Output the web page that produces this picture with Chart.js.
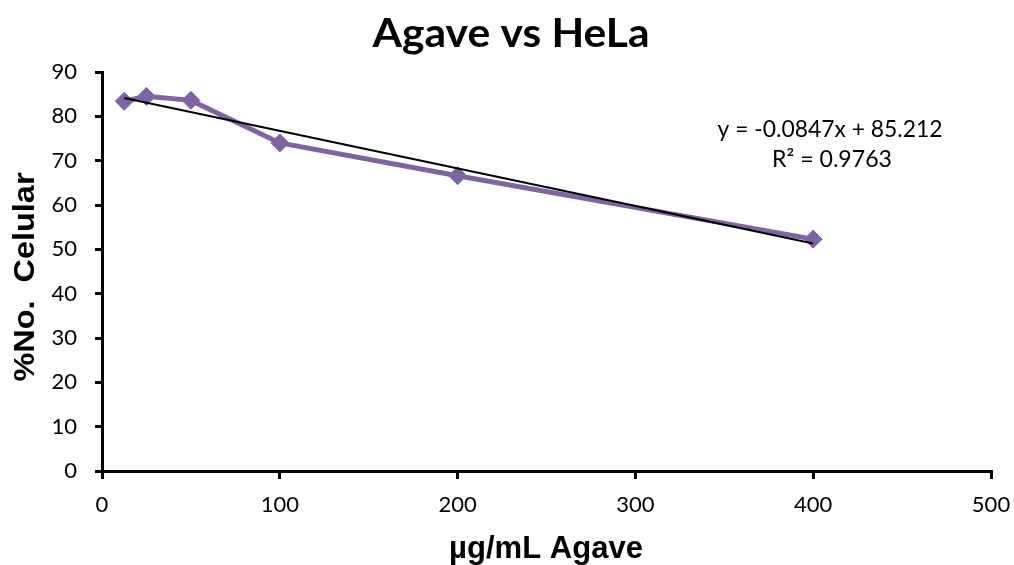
<!DOCTYPE html>
<html>
<head>
<meta charset="utf-8">
<title>Agave vs HeLa</title>
<script src="https://cdn.jsdelivr.net/npm/chart.js@4/dist/chart.umd.min.js"></script>
<style>
  html, body { margin: 0; padding: 0; background: #fff; }
  #wrap { width: 1014px; height: 565px; }
</style>
</head>
<body>
<div id="wrap"><canvas id="canvas" width="1014" height="565"></canvas></div>
<script>
// data
var concentrations = [12.5, 25, 50, 100, 200, 400];   // µg/mL
var viability = [83.4, 84.5, 83.6, 74.0, 66.6, 52.3];  // %No. Celular
var xTicks = [0, 100, 200, 300, 400, 500];
var yTicks = [0, 10, 20, 30, 40, 50, 60, 70, 80, 90];

// linear trendline as printed on the chart
var slope = -0.0847;
var intercept = 85.212;
var rSquared = 0.9763;

var titleText = 'Agave vs HeLa';
var xTitle = 'µg/mL Agave';
var yTitle = '%No.  Celular';
var eqLine1 = 'y = ' + slope + 'x + ' + intercept;
var eqLine2 = 'R² = ' + rSquared;

var purple = '#8064A2';

var seriesPoints = concentrations.map(function (c, i) { return { x: c, y: viability[i] }; });
var xFirst = concentrations[0], xLast = concentrations[concentrations.length - 1];
var trendPoints = [
  { x: xFirst, y: slope * xFirst + intercept },
  { x: xLast, y: slope * xLast + intercept }
];

// draw a text fitted to a given width
function fitText(ctx, text, cx, baseY, width, font, rotate) {
  ctx.save();
  ctx.font = font;
  var w = ctx.measureText(text).width;
  ctx.translate(cx, baseY);
  if (rotate) ctx.rotate(-Math.PI / 2);
  ctx.scale(width / w, 1);
  ctx.fillStyle = '#000';
  ctx.textAlign = 'center';
  ctx.textBaseline = 'alphabetic';
  ctx.fillText(text, 0, 0);
  ctx.restore();
}

var textPlugin = {
  id: 'texts',
  beforeDraw: function (chart) {
    var ctx = chart.ctx;
    ctx.save();
    ctx.fillStyle = '#fff';
    ctx.fillRect(0, 0, chart.width, chart.height);
    ctx.restore();
  },
  afterDraw: function (chart) {
    var ctx = chart.ctx;
    fitText(ctx, titleText, 511, 47, 277, 'bold 41px Lato', false);
    fitText(ctx, xTitle, 546, 558, 194, 'bold 31px "Liberation Sans"', false);
    fitText(ctx, yTitle, 34, 277, 209, 'bold 30px "Liberation Sans"', true);
    fitText(ctx, eqLine1, 830, 137, 225, '23px Lato', false);
    fitText(ctx, eqLine2, 832, 167, 120, '23px Lato', false);
  }
};

var ctx = document.getElementById('canvas').getContext('2d');

new Chart(ctx, {
  type: 'scatter',
  data: {
    datasets: [
      {
        label: 'Lineal',
        data: trendPoints,
        showLine: true,
        borderColor: '#000',
        borderWidth: 2,
        pointRadius: 0,
        order: 0
      },
      {
        label: 'HeLa',
        data: seriesPoints,
        showLine: true,
        borderColor: purple,
        backgroundColor: purple,
        borderWidth: 5,
        tension: 0,
        pointStyle: 'rectRot',
        pointRadius: 9,
        pointHoverRadius: 9,
        pointBackgroundColor: purple,
        pointBorderColor: purple,
        pointBorderWidth: 1,
        order: 1
      }
    ]
  },
  options: {
    responsive: false,
    animation: false,
    clip: false,
    layout: { padding: { top: 72, right: 23, bottom: 0, left: 0 } },
    plugins: {
      legend: { display: false },
      title: { display: false },
      tooltip: { enabled: false }
    },
    scales: {
      x: {
        type: 'linear',
        min: 0,
        max: 500,
        afterBuildTicks: function (scale) {
          scale.ticks = xTicks.map(function (v) { return { value: v }; });
        },
        afterFit: function (scale) {
          scale.height = 94;
          scale.paddingLeft = 0;
          scale.paddingRight = 0;
        },
        border: { display: true, color: '#000', width: 3 },
        grid: { drawOnChartArea: false, drawTicks: true, tickLength: 8, color: '#000', lineWidth: 3 },
        ticks: { color: '#000', padding: 13, maxRotation: 0, font: { family: 'Lato', size: 22 } }
      },
      y: {
        type: 'linear',
        min: 0,
        max: 90,
        afterBuildTicks: function (scale) {
          scale.ticks = yTicks.map(function (v) { return { value: v }; });
        },
        afterFit: function (scale) {
          scale.width = 102;
          scale.paddingTop = 0;
          scale.paddingBottom = 0;
        },
        border: { display: true, color: '#000', width: 3 },
        grid: { drawOnChartArea: false, drawTicks: true, tickLength: 7, color: '#000', lineWidth: 3 },
        ticks: { color: '#000', padding: 18, font: { family: 'Lato', size: 22 } }
      }
    }
  },
  plugins: [textPlugin]
});
</script>
</body>
</html>
